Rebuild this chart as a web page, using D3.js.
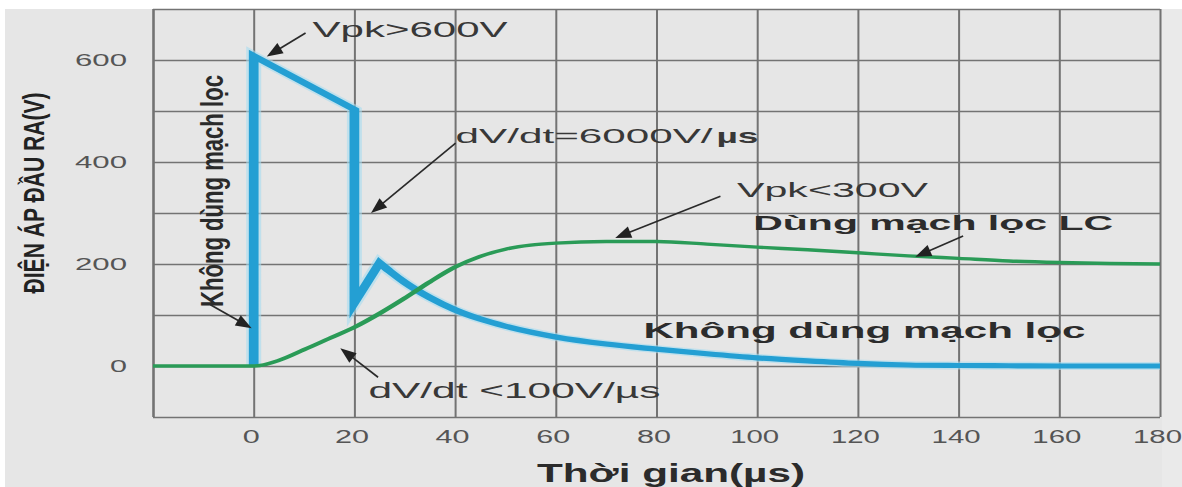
<!DOCTYPE html>
<html>
<head>
<meta charset="utf-8">
<script src="https://cdn.jsdelivr.net/npm/d3@7"></script>
<style>
html,body{margin:0;padding:0;background:#fff;}
svg{display:block;}
text{font-family:"Liberation Sans",Arial,sans-serif;}
</style>
</head>
<body>
<svg id="chart" width="1182" height="487"></svg>
<script>
// ---------- data ----------
const xTickValues = [0, 20, 40, 60, 80, 100, 120, 140, 160, 180];
const yTickValues = [0, 200, 400, 600];
const xTitle = "Thời gian(µs)";
const yTitle = "ĐIỆN ÁP ĐẦU RA(V)";

// Không dùng mạch lọc (blue) – spike part (straight segments)
const noFilterSpikeT = [0, 0, 20, 20, 25];
const noFilterSpikeV = [0, 608, 503, 124, 202];
// Không dùng mạch lọc (blue) – decay part (smooth)
const noFilterDecayT = [25, 27, 30, 35, 40, 45, 50, 60, 70, 80, 90, 100, 110, 120, 130, 140, 150, 160, 170, 180];
const noFilterDecayV = [202, 186, 164, 134, 110, 92, 78, 57, 43, 33, 24, 16, 10, 5, 2, 1, 0.5, 0, 0, 0];

// Dùng mạch lọc LC (green)
const lcT = [-20, 0, 5, 10, 15, 20, 25, 30, 35, 40, 45, 50, 55, 60, 70, 80, 90, 100, 110, 120, 130, 140, 150, 160, 170, 180];
const lcV = [0, 0, 11, 32, 54, 76, 103, 133, 165, 194, 215, 229, 237, 241, 244, 244, 239, 233, 228, 222, 216, 211, 206, 203, 201, 200];

// annotation labels
const annotationTexts = ["Vpk>600V", "dV/dt=6000V/", "µs", "Vpk<300V", "Dùng mạch lọc LC", "Không dùng mạch lọc", "dV/dt <100V/µs"];

// ---------- layout ----------
(function () {
const S = 1.87; // horizontal stretch of the original picture
const svg = d3.select("#chart");
const pL = 153, pR = 1160, pT = 9, pB = 417;

const x = d3.scaleLinear().domain([-20, 180]).range([pL, pR]);
const y = d3.scaleLinear().domain([-100, 700]).range([pB, pT]);
const xs = d3.scaleLinear().domain([-20, 180]).range([pL / S, pR / S]);

// background
svg.append("rect").attr("x", 5).attr("y", 9).attr("width", 1177).attr("height", 478).attr("fill", "#e6e6e6");
svg.append("rect").attr("x", 1162).attr("y", 9).attr("width", 20).attr("height", 478).attr("fill", "#eaeaea");

// grid
const gridColor = "#737373";
const gGrid = svg.append("g");
gGrid.append("g")
  .attr("transform", `translate(0,${pB})`)
  .call(d3.axisBottom(x).tickValues(d3.range(-20, 181, 20)).tickSize(-(pB - pT)).tickFormat(""))
  .call(g => g.select(".domain").remove())
  .call(g => g.selectAll(".tick line").attr("stroke", gridColor).attr("stroke-width", d => d === -20 ? 2.6 : 2));
gGrid.append("g")
  .attr("transform", `translate(${pL},0)`)
  .call(d3.axisLeft(y).tickValues(d3.range(-100, 701, 100)).tickSize(-(pR - pL)).tickFormat(""))
  .call(g => g.select(".domain").remove())
  .call(g => g.selectAll(".tick line").attr("stroke", gridColor).attr("stroke-width", 1.4));

// tick labels
const widthFor = (s, w3) => s.length === 1 ? 17 : s.length === 2 ? 34 : w3;
svg.append("g")
  .attr("transform", `translate(0,${pB})`)
  .call(d3.axisBottom(x).tickValues(xTickValues).tickSize(0).tickPadding(13).tickFormat(d3.format("d")))
  .call(g => g.select(".domain").remove())
  .call(g => g.selectAll("text")
    .attr("font-size", 18).attr("fill", "#555").attr("font-family", "Liberation Sans, Arial")
    .attr("dx", -3)
    .attr("textLength", d => widthFor(String(d), 49)).attr("lengthAdjust", "spacingAndGlyphs"));
svg.append("g")
  .attr("transform", `translate(${pL},0)`)
  .call(d3.axisLeft(y).tickValues(yTickValues).tickSize(0).tickPadding(26).tickFormat(d3.format("d")))
  .call(g => g.select(".domain").remove())
  .call(g => g.selectAll("text")
    .attr("font-size", 17).attr("fill", "#555").attr("font-family", "Liberation Sans, Arial")
    .attr("textLength", d => widthFor(String(d), 52)).attr("lengthAdjust", "spacingAndGlyphs"));

// axis titles
svg.append("text")
  .attr("x", 537).attr("y", 482)
  .attr("font-size", 25).attr("font-weight", "bold").attr("fill", "#2b2b2b")
  .attr("textLength", 268).attr("lengthAdjust", "spacingAndGlyphs")
  .text(xTitle);
svg.append("text")
  .attr("transform", "translate(44,193) rotate(-90)")
  .attr("text-anchor", "middle")
  .attr("font-size", 30).attr("font-weight", "bold").attr("fill", "#222")
  .attr("textLength", 201).attr("lengthAdjust", "spacingAndGlyphs")
  .text(yTitle);

// ---------- series ----------
const gLines = svg.append("g").attr("transform", `scale(${S},1)`);
const toPts = (ts, vs) => ts.map((t, i) => [t, vs[i]]);
const lineLin = d3.line().x(d => xs(d[0])).y(d => y(d[1])).curve(d3.curveLinear);
const lineSmooth = d3.line().x(d => xs(d[0])).y(d => y(d[1])).curve(d3.curveMonotoneX);

const blueD = lineLin(toPts(noFilterSpikeT, noFilterSpikeV)) +
  lineSmooth(toPts(noFilterDecayT, noFilterDecayV)).replace(/^M/, "L");

gLines.append("path").attr("d", blueD).attr("fill", "none")
  .attr("stroke", "#a6dcf0").attr("stroke-width", 8).attr("stroke-opacity", 0.6)
  .attr("stroke-linejoin", "miter").attr("stroke-miterlimit", 10);
gLines.append("path").attr("d", blueD).attr("fill", "none")
  .attr("stroke", "#249fd3").attr("stroke-width", 5.2)
  .attr("stroke-linejoin", "miter").attr("stroke-miterlimit", 10);

gLines.append("path").attr("d", lineSmooth(toPts(lcT, lcV))).attr("fill", "none")
  .attr("stroke", "#2a9b57").attr("stroke-width", 3.4);

// ---------- annotations ----------
const ann = svg.append("g");
function arrow(tail, tip) {
  const x1 = x(tail[0]), y1 = y(tail[1]), x2 = x(tip[0]), y2 = y(tip[1]);
  const dx = x2 - x1, dy = y2 - y1, L = Math.hypot(dx, dy);
  const ux = dx / L, uy = dy / L, hl = 16, hw = 6;
  const bx = x2 - ux * hl, by = y2 - uy * hl;
  ann.append("line").attr("x1", x1).attr("y1", y1).attr("x2", bx + ux * 2).attr("y2", by + uy * 2)
    .attr("stroke", "#2a2a2a").attr("stroke-width", 1.7);
  ann.append("path")
    .attr("d", `M${x2},${y2}L${bx - uy * hw},${by + ux * hw}L${bx + uy * hw},${by - ux * hw}Z`)
    .attr("fill", "#222");
}
function label(str, px, py, size, w, bold, color) {
  return ann.append("text").attr("x", px).attr("y", py)
    .attr("font-size", size).attr("font-weight", bold ? "bold" : "normal")
    .attr("fill", color || "#383838")
    .attr("textLength", w).attr("lengthAdjust", "spacingAndGlyphs")
    .text(str);
}

// Vpk>600V
arrow([10.3, 653], [2.6, 607]);
label(annotationTexts[0], x(11.7), y(645), 22, 195, false);
// dV/dt=6000V/µs
arrow([40.1, 437], [23.3, 300]);
label(annotationTexts[1], x(40.1), y(437), 21, 257, false);
label(annotationTexts[2], x(91.9), y(437), 21, 42, true);
// Vpk<300V
arrow([92.7, 333], [71.8, 251]);
label(annotationTexts[3], x(96), y(331), 21, 191, false);
// Dùng mạch lọc LC
arrow([140.9, 255], [131.4, 214]);
label(annotationTexts[4], x(99.2), y(267), 20.5, 360, true, "#2c2c2c");
// Không dùng mạch lọc (horizontal)
label(annotationTexts[5], x(77.4), y(55), 22, 442, true, "#2c2c2c");
// dV/dt <100V/µs
arrow([24.7, -22], [17.2, 35]);
label(annotationTexts[6], x(22.8), y(-63), 22, 292, false);
// Không dùng mạch lọc (vertical)
arrow([-8.6, 120], [-0.4, 74]);
ann.append("text")
  .attr("transform", `translate(${x(-6)},${y(343)}) rotate(-90)`)
  .attr("text-anchor", "middle")
  .attr("font-size", 32).attr("font-weight", "bold").attr("fill", "#2a2a2a")
  .attr("textLength", 232).attr("lengthAdjust", "spacingAndGlyphs")
  .text(annotationTexts[5]);
})();
</script>
</body>
</html>
